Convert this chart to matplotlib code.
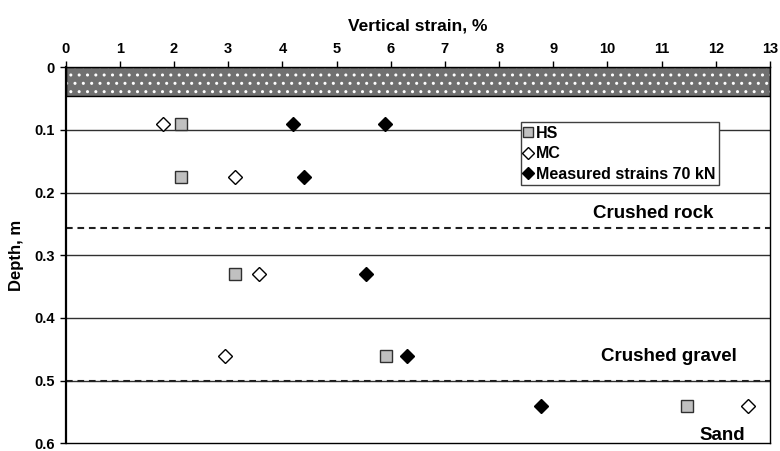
import matplotlib
matplotlib.use("Agg")
import matplotlib.pyplot as plt
from matplotlib.patches import Rectangle

plt.rcParams['font.family'] = ['Liberation Sans', 'DejaVu Sans']
plt.rcParams['font.weight'] = 'bold'
plt.rcParams['hatch.linewidth'] = 1.0

# Data
hs_strain = [2.12, 2.12, 3.13, 5.91, 11.46]
hs_depth = [0.09, 0.175, 0.33, 0.46, 0.54]
mc_strain = [1.80, 3.12, 3.57, 2.94, 12.6]
mc_depth = [0.09, 0.175, 0.33, 0.46, 0.54]
meas_strain = [4.20, 5.90, 4.39, 5.55, 6.30, 8.77]
meas_depth = [0.09, 0.09, 0.175, 0.33, 0.46, 0.54]

x_ticks = list(range(0, 14))
y_ticks = [0, 0.1, 0.2, 0.3, 0.4, 0.5, 0.6]
y_ticklabels = ['0', '0.1', '0.2', '0.3', '0.4', '0.5', '0.6']
surface_depth = 0.046
layer_bounds = [0.257, 0.5]
layer_names = ['Crushed rock', 'Crushed gravel', 'Sand']
layer_label_pos = [(11.95, 0.241), (12.39, 0.469), (12.54, 0.594)]

fig = plt.figure(figsize=(7.8, 4.51), dpi=100)
ax = fig.add_axes([0.0842, 0.017, 0.9030, 0.834])

ax.set_xlim(0, 13)
ax.set_ylim(0.6, 0)

# gridlines
for yv in y_ticks[1:-1]:
    ax.axhline(yv, color='#303030', lw=1.0, zorder=1)

# surface band
ax.add_patch(Rectangle((0, 0), 13, surface_depth, facecolor='#707070',
                       edgecolor='white', hatch='..', lw=0, zorder=2))
ax.add_patch(Rectangle((0, 0), 13, surface_depth, facecolor='none',
                       edgecolor='black', lw=1.0, zorder=3))

for yb in layer_bounds:
    ax.axhline(yb, color='#202020', lw=1.5, ls=(0, (3.2, 2.3)), zorder=2)

for name, (xp, yp) in zip(layer_names, layer_label_pos):
    ax.text(xp, yp, name, ha='right', va='baseline', fontsize=13.5, fontweight='bold')

ax.plot(hs_strain, hs_depth, ls='none', marker='s', ms=8, mfc='#c0c0c0',
        mec='#303030', mew=1.0, label='HS', zorder=5)
ax.plot(mc_strain, mc_depth, ls='none', marker='D', ms=7, mfc='white',
        mec='black', mew=1.0, label='MC', zorder=5)
ax.plot(meas_strain, meas_depth, ls='none', marker='D', ms=7.5, mfc='black',
        mec='black', mew=1.0, label='Measured strains 70 kN', zorder=5)

ax.xaxis.tick_top()
ax.xaxis.set_label_position('top')
ax.set_xticks(x_ticks)
ax.set_xticklabels([str(v) for v in x_ticks], fontsize=10.5, fontweight='bold')
ax.set_yticks(y_ticks)
ax.set_yticklabels(y_ticklabels, fontsize=10.5, fontweight='bold')
ax.tick_params(axis='both', direction='out', length=4, width=1.0, color='black', pad=4)
ax.set_xlabel('Vertical strain, %', fontsize=12.5, fontweight='bold', labelpad=8)
ax.set_ylabel('Depth, m', fontsize=12, fontweight='bold', labelpad=7)

for sp in ax.spines.values():
    sp.set_color('black')
    sp.set_linewidth(1.0)
ax.spines['left'].set_linewidth(1.6)

leg = ax.legend(loc='upper left', bbox_to_anchor=(0.646, 0.853), fontsize=11.5,
                frameon=True, fancybox=False, edgecolor='#404040', framealpha=1,
                handlelength=0.5, handletextpad=0.25, borderpad=0.2,
                labelspacing=0.35, borderaxespad=0, markerscale=0.85)
leg.get_frame().set_linewidth(1.0)
for t in leg.get_texts():
    t.set_fontweight('bold')

fig.savefig('out.png', dpi=100)
